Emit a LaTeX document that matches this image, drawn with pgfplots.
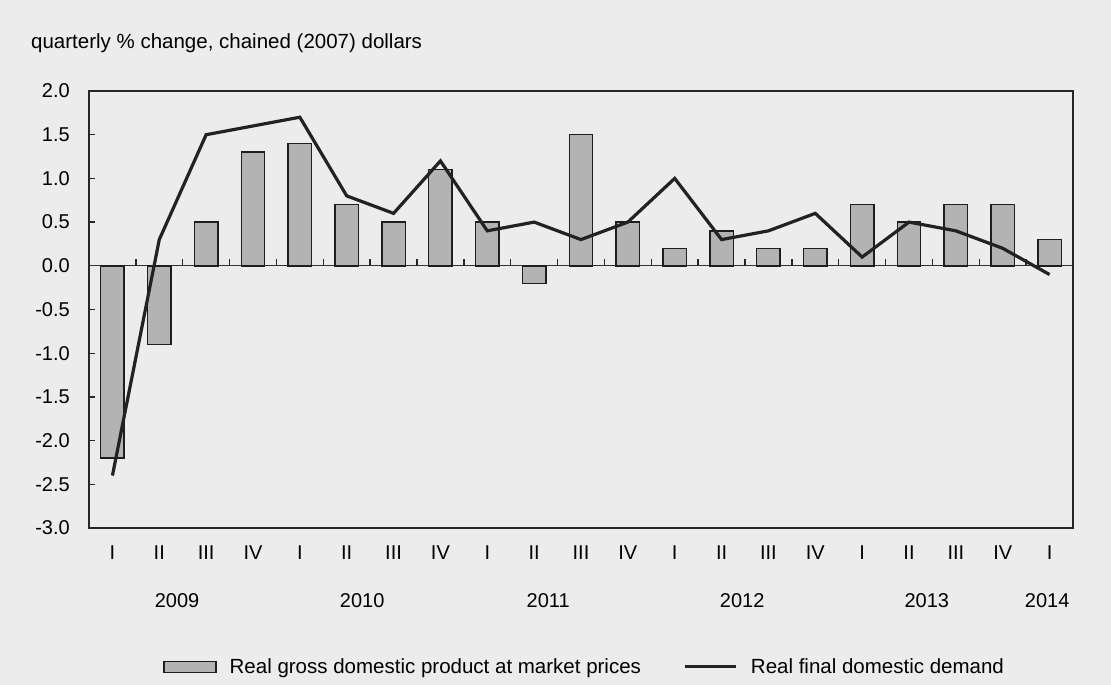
\documentclass[border=0pt]{standalone}
\usepackage{pgfplots}
\pgfplotsset{compat=1.18}
\usepackage{fontspec}
\setmainfont{Liberation Sans}
\definecolor{bg}{RGB}{236,236,236}
\definecolor{barfill}{RGB}{179,179,179}
\definecolor{barline}{RGB}{30,30,30}
\definecolor{linecol}{RGB}{34,34,34}
\begin{document}
\begin{tikzpicture}
\path[fill=bg, use as bounding box] (-89bp,-157bp) rectangle (1022bp,528bp);
\node[anchor=base west, inner sep=0pt, font=\fontsize{20.5bp}{24bp}\selectfont] at (-58bp,479bp) {quarterly \% change, chained (2007) dollars};
\begin{axis}[
  at={(0,0)}, anchor=south west,
  scale only axis, width=984bp, height=437bp,
  xmin=0.5, xmax=21.5, ymin=-3, ymax=2,
  font=\fontsize{20bp}{24bp}\selectfont,
  /pgf/number format/assume math mode=true,
  axis line style={draw=black!85, line width=1.4bp},
  axis background/.style={fill=bg},
  ytick={-3,-2.5,...,2},
  yticklabel style={/pgf/number format/fixed, /pgf/number format/fixed zerofill, /pgf/number format/precision=1, inner sep=0pt, xshift=-19bp},
  ytick pos=left, tick align=inside,
  major tick length=6bp,
  ytick style={draw=black!85, line width=1.3bp},
  xtick={1,...,21},
  xticklabels={I,II,III,IV,I,II,III,IV,I,II,III,IV,I,II,III,IV,I,II,III,IV,I},
  xtick style={draw=none},
  xticklabel style={inner sep=0pt, anchor=base, yshift=-31bp},
  legend columns=-1,
  legend style={at={(0.0752,-0.318)}, anchor=west, draw=none, fill=none, inner sep=0pt,
    font=\fontsize{20.5bp}{24bp}\selectfont,
    /tikz/every odd column/.style={column sep=11bp},
    /tikz/every even column/.style={column sep=41bp}},
  legend cell align=left,
  clip=false,
]
\draw[black!80, line width=1.3bp] (axis cs:0.5,0) -- (axis cs:21.5,0);
\addplot[ybar, bar width=0.5, fill=barfill, draw=barline, line width=1.5bp,
  legend image code/.code={\draw[fill=barfill, draw=barline, line width=1.5bp] (0bp,-5.5bp) rectangle (52bp,5.5bp);}]
  coordinates {(1,-2.2) (2,-0.9) (3,0.5) (4,1.3) (5,1.4) (6,0.7) (7,0.5) (8,1.1) (9,0.5) (10,-0.2) (11,1.5) (12,0.5) (13,0.2) (14,0.4) (15,0.2) (16,0.2) (17,0.7) (18,0.5) (19,0.7) (20,0.7) (21,0.3)};
\addlegendentry{Real gross domestic product at market prices}
\addplot[linecol, line width=3.2bp, mark=none,
  legend image code/.code={\draw[linecol, line width=3bp] (0bp,0bp) -- (51bp,0bp);}]
  coordinates {(1,-2.4) (2,0.3) (3,1.5) (4,1.6) (5,1.7) (6,0.8) (7,0.6) (8,1.2) (9,0.4) (10,0.5) (11,0.3) (12,0.5) (13,1.0) (14,0.3) (15,0.4) (16,0.6) (17,0.1) (18,0.5) (19,0.4) (20,0.2) (21,-0.1)};
\addlegendentry{Real final domestic demand}
\pgfplotsinvokeforeach{1.5,2.5,...,20.5}{\draw[black!85, line width=1.4bp] (axis cs:#1,0) -- (axis cs:#1,0.08);}
\node[anchor=base, inner sep=0pt, yshift=-79bp] at (axis cs:2.38,-3) {2009};
\node[anchor=base, inner sep=0pt, yshift=-79bp] at (axis cs:6.33,-3) {2010};
\node[anchor=base, inner sep=0pt, yshift=-79bp] at (axis cs:10.3,-3) {2011};
\node[anchor=base, inner sep=0pt, yshift=-79bp] at (axis cs:14.44,-3) {2012};
\node[anchor=base, inner sep=0pt, yshift=-79bp] at (axis cs:18.38,-3) {2013};
\node[anchor=base, inner sep=0pt, yshift=-79bp] at (axis cs:20.95,-3) {2014};
\end{axis}
\end{tikzpicture}
\end{document}
